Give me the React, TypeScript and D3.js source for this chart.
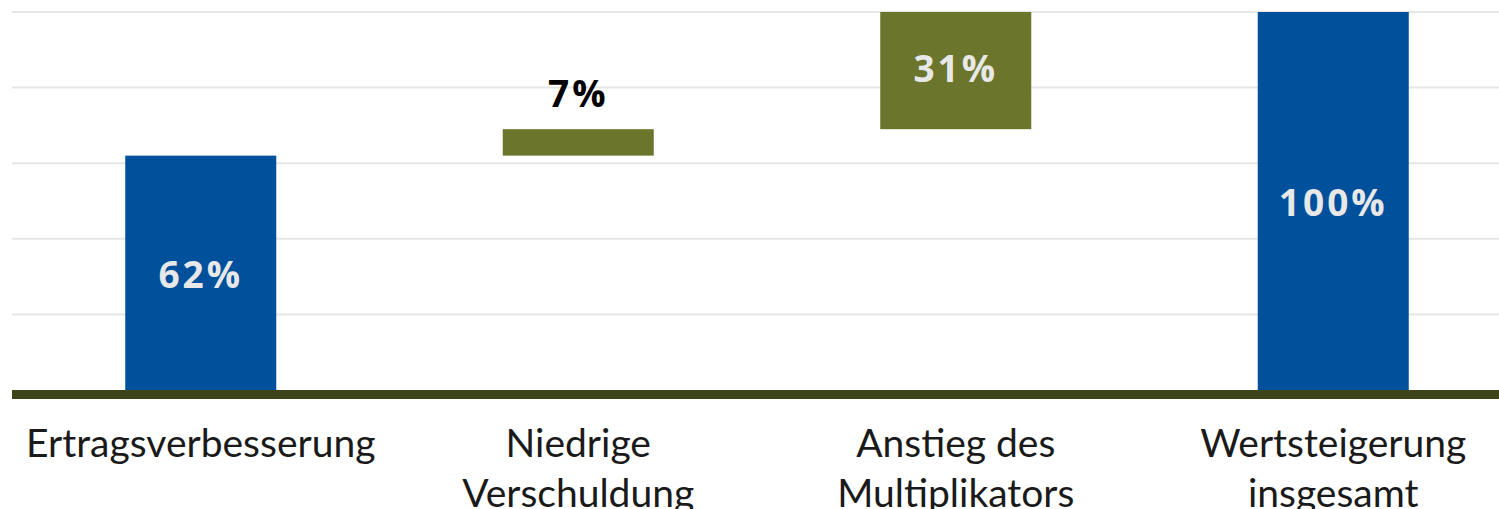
import { useEffect, useRef } from 'react'
import * as d3 from 'd3'

const categories = ['Ertragsverbesserung', 'Niedrige Verschuldung', 'Anstieg des Multiplikators', 'Wertsteigerung insgesamt']
const categoryLines = [['Ertragsverbesserung'], ['Niedrige', 'Verschuldung'], ['Anstieg des', 'Multiplikators'], ['Wertsteigerung', 'insgesamt']]
const values = [62, 7, 31, 100]
const barKinds = ['total', 'step', 'step', 'total']
const yTicks = [0, 20, 40, 60, 80, 100]

const BLUE = '#00509b'
const OLIVE = '#6b752c'
const BASE = '#3e4419'

export default function App() {
  const svgRef = useRef<SVGSVGElement>(null)

  useEffect(() => {
    document.body.style.margin = '0'
    const svg = svgRef.current
    if (!svg) return
    const width = 1499
    const height = 509

    d3.select(svg).selectAll('*').remove()
    const root = d3.select(svg).attr('width', width).attr('height', height)

    // ── Scales ────────────────────────────────────────────────────
    const x = d3.scaleBand<string>().domain(categories).range([12, 1522]).paddingInner(0.6).paddingOuter(0.3)
    const y = d3.scaleLinear().domain([0, 100]).range([390, 12])

    // waterfall start / end
    let running = 0
    const bars = values.map((v, i) => {
      if (barKinds[i] === 'total') {
        running = v
        return { cat: categories[i], v, y0: 0, y1: v, kind: 'total' }
      }
      const b = { cat: categories[i], v, y0: running, y1: running + v, kind: 'step' }
      running += v
      return b
    })

    // ── Grid lines ────────────────────────────────────────────────
    root
      .append('g')
      .selectAll('line')
      .data(yTicks.filter((d) => d > 0))
      .join('line')
      .attr('x1', 12)
      .attr('x2', width)
      .attr('y1', (d) => y(d))
      .attr('y2', (d) => y(d))
      .attr('stroke', '#e6e6e6')
      .attr('stroke-width', 2)

    // ── Bars ──────────────────────────────────────────────────────
    root
      .append('g')
      .selectAll('rect')
      .data(bars)
      .join('rect')
      .attr('x', (d) => x(d.cat)!)
      .attr('width', x.bandwidth())
      .attr('y', (d) => y(d.y1))
      .attr('height', (d) => y(d.y0) - y(d.y1))
      .attr('fill', (d) => (d.kind === 'total' ? BLUE : OLIVE))

    // baseline
    root
      .append('line')
      .attr('x1', 12)
      .attr('x2', width)
      .attr('y1', y(0) + 4.5)
      .attr('y2', y(0) + 4.5)
      .attr('stroke', BASE)
      .attr('stroke-width', 9)

    // ── Value labels ──────────────────────────────────────────────
    bars.forEach((d) => {
      const h = y(d.y0) - y(d.y1)
      const inside = h > 60
      const yc = (y(d.y0) + y(d.y1)) / 2
      root
        .append('text')
        .attr('x', x(d.cat)! + x.bandwidth() / 2)
        .attr('y', inside ? yc + (h > 200 ? 5 : 2) : y(d.y1) - 32)
        .attr('text-anchor', 'middle')
        .attr('dominant-baseline', 'middle')
        .attr('fill', inside ? '#e8e8e8' : '#000')
        .attr('font-family', 'Open Sans')
        .attr('font-weight', 'bold')
        .attr('font-size', '37px')
        .attr('letter-spacing', '3px')
        .text(`${d.v}%`)
    })

    // ── Category labels ──────────────────────────────────────────
    categories.forEach((c, i) => {
      const t = root
        .append('text')
        .attr('x', x(c)! + x.bandwidth() / 2)
        .attr('y', 457)
        .attr('text-anchor', 'middle')
        .attr('fill', '#1a1a1a')
        .attr('font-family', 'Lato')
        .attr('font-size', '39px')
      categoryLines[i].forEach((line, j) => {
        t.append('tspan')
          .attr('x', x(c)! + x.bandwidth() / 2)
          .attr('dy', j === 0 ? 0 : 50)
          .text(line)
      })
    })
  }, [])

  return <svg ref={svgRef} style={{ display: 'block' }} />
}
